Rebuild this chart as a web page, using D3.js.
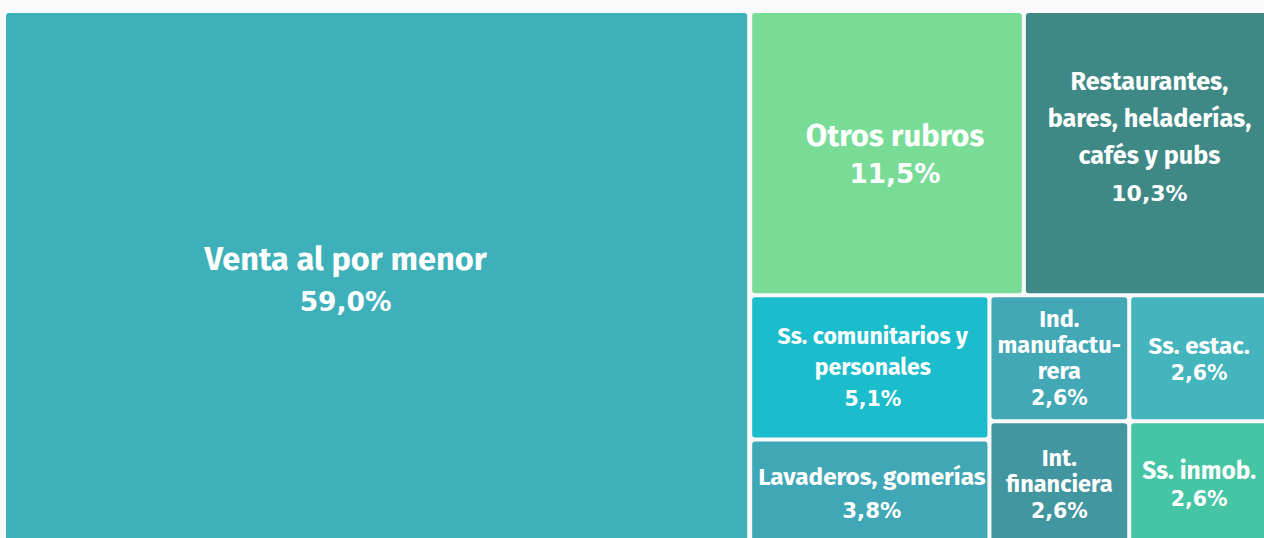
<!DOCTYPE html>
<html>
<head>
<meta charset="utf-8">
<script src="https://cdn.jsdelivr.net/npm/d3@7"></script>
<style>
  html, body { margin: 0; padding: 0; background: #fafafa; overflow: hidden; }
  svg { display: block; overflow: hidden; }
  text { font-family: "Fira Sans", Roboto, "Open Sans", sans-serif; font-weight: 700; fill: #ffffff; }
  tspan.pct { font-family: "DejaVu Sans", Verdana, sans-serif; }
</style>
</head>
<body>
<svg id="chart" width="1264" height="538"></svg>
<script>
// ---- data ----
const categories = [
  "Venta al por menor",
  "Otros rubros",
  "Restaurantes, bares, heladerías, cafés y pubs",
  "Ss. comunitarios y personales",
  "Lavaderos, gomerías",
  "Ind. manufacturera",
  "Int. financiera",
  "Ss. estac.",
  "Ss. inmob."
];
const shares = [59.0, 11.5, 10.3, 5.1, 3.8, 2.6, 2.6, 2.6, 2.6];
const shareLabels = ["59,0%", "11,5%", "10,3%", "5,1%", "3,8%", "2,6%", "2,6%", "2,6%", "2,6%"];
const labelLines = [
  ["Venta al por menor"],
  ["Otros rubros"],
  ["Restaurantes,", "bares, heladerías,", "cafés y pubs"],
  ["Ss. comunitarios y", "personales"],
  ["Lavaderos, gomerías"],
  ["Ind.", "manufactu-", "rera"],
  ["Int.", "financiera"],
  ["Ss. estac."],
  ["Ss. inmob."]
];
// nesting of the treemap tiles (structure of the layout)
const groupPath = [
  [],
  ["resto", "arriba"],
  ["resto", "arriba"],
  ["resto", "abajo", "c1"],
  ["resto", "abajo", "c1"],
  ["resto", "abajo", "c2"],
  ["resto", "abajo", "c2"],
  ["resto", "abajo", "c3"],
  ["resto", "abajo", "c3"]
];
const colors = ["#3eb0b9", "#78dc97", "#3e8986", "#1bbccc", "#40a7b6", "#42a8b6", "#4296a0", "#44b5bd", "#46c5a5"];

// ---- label styling ----
const fontSizes = [32.5, 31, 25.2, 23, 24.3, 23.5, 23.5, 24, 24.5];
const pctSizes = [26.5, 26.2, 22, 20.5, 21.3, 20.5, 20.5, 20.5, 20.5];
const lineHeights = [41, 37, 37, 31, 33, 26, 26, 26, 27];
const blockShiftY = [0, 0, -16, 0, 0, 0, 0, 0, 0];
const blockShiftX = [-31, 8, 3, 3, 2, 0, 0, 0, 0];

// ---- build hierarchy ----
const root = { name: "root", children: [] };
categories.forEach((c, i) => {
  let node = root;
  groupPath[i].forEach(g => {
    let next = node.children.find(ch => ch.name === g && ch.children);
    if (!next) { next = { name: g, children: [] }; node.children.push(next); }
    node = next;
  });
  node.children.push({ name: c, idx: i, value: shares[i] });
});

const x0 = 6, y0 = 13, tw = 1261, th = 532;

const h = d3.hierarchy(root).sum(d => d.value || 0);
d3.treemap()
  .tile(d3.treemapSliceDice)
  .size([tw, th])
  .paddingInner(d => d.depth === 0 ? 5 : 4)
  .round(false)(h);

const svg = d3.select("#chart");
const g = svg.append("g").attr("transform", `translate(${x0},${y0})`);

const leaves = g.selectAll("g.leaf")
  .data(h.leaves())
  .join("g")
  .attr("class", "leaf");

leaves.append("rect")
  .attr("x", d => d.x0)
  .attr("y", d => d.y0)
  .attr("width", d => d.x1 - d.x0)
  .attr("height", d => d.y1 - d.y0)
  .attr("rx", 3)
  .attr("ry", 3)
  .attr("fill", d => colors[d.data.idx]);

leaves.each(function(d) {
  const i = d.data.idx;
  const lines = labelLines[i].concat([shareLabels[i]]);
  const fs = fontSizes[i], lh = lineHeights[i];
  const cx = (d.x0 + d.x1) / 2 + blockShiftX[i];
  const cy = (d.y0 + d.y1) / 2 + blockShiftY[i];
  const n = lines.length;
  const capH = fs * 0.7;
  const blockH = (n - 1) * lh + capH;
  const firstBase = cy - blockH / 2 + capH;
  const t = d3.select(this).append("text")
    .attr("text-anchor", "middle")
    .style("font-size", fs + "px");
  lines.forEach((ln, k) => {
    const ts = t.append("tspan")
      .attr("x", cx)
      .attr("y", firstBase + k * lh)
      .text(ln);
    if (k === n - 1) ts.attr("class", "pct").style("font-size", pctSizes[i] + "px");
  });
});
</script>
</body>
</html>
